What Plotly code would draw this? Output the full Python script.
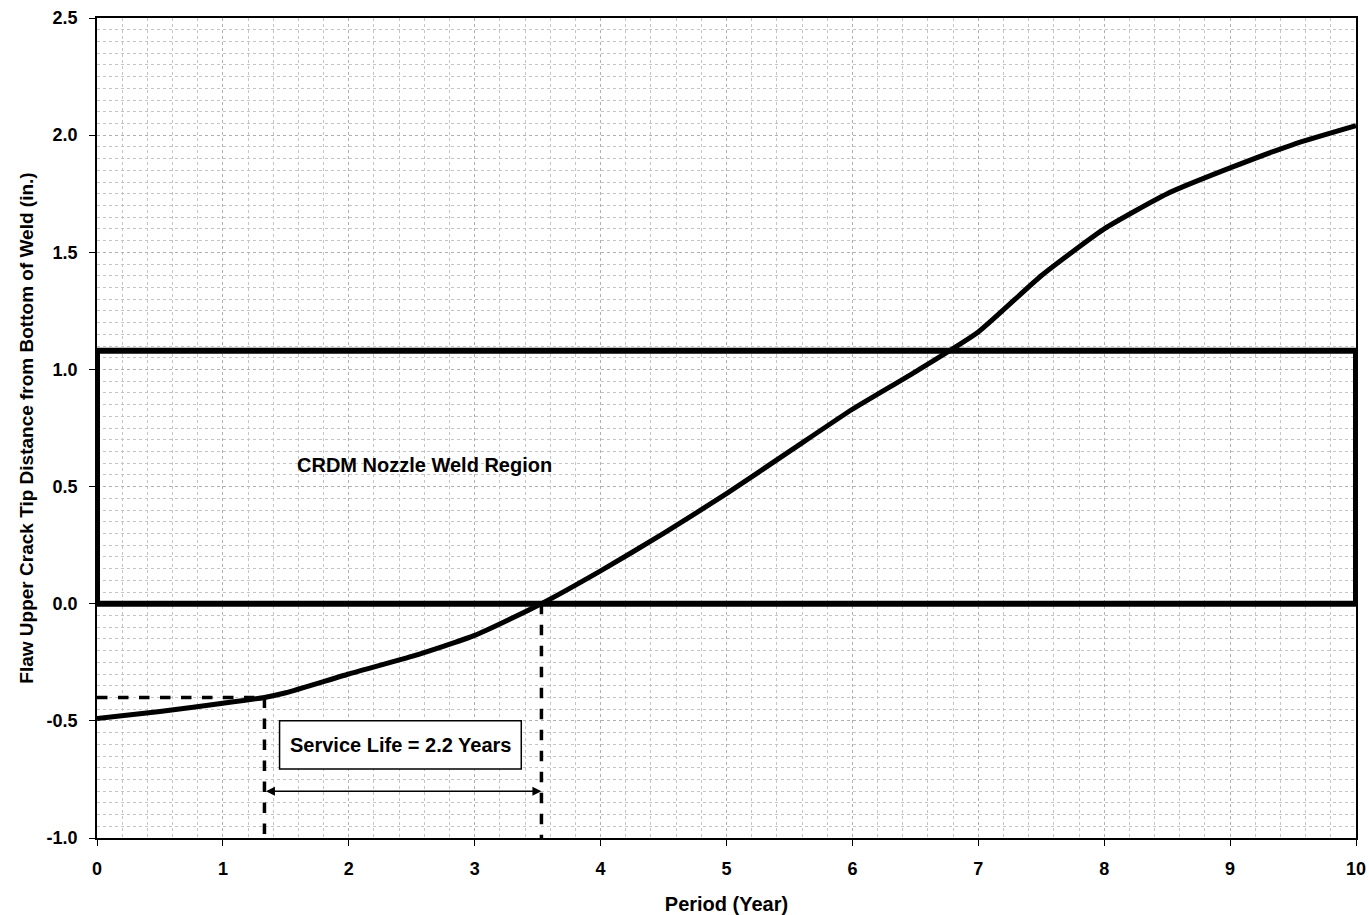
import plotly.graph_objects as go

# Data
period = [0, 0.5, 1.0, 1.33, 1.5, 2.0, 2.5, 3.0, 3.53, 4.0, 4.5, 5.0, 5.5, 6.0, 6.5, 7.0, 7.5, 8.0, 8.5, 9.0, 9.5, 10.0]
tip = [-0.49, -0.46, -0.425, -0.40, -0.38, -0.30, -0.225, -0.135, 0.0, 0.14, 0.30, 0.47, 0.65, 0.83, 0.99, 1.16, 1.40, 1.60, 1.75, 1.86, 1.96, 2.04]

weld_region = [0.0, 10.0, 0.0, 1.08]   # x0, x1, y0, y1
start_year = 1.33
start_depth = -0.40
end_year = 3.53
arrow_y = -0.80
service_box = [1.45, 3.37, -0.705, -0.50]  # x0, x1, y0, y1
service_label = "Service Life = 2.2 Years"
region_label = "CRDM Nozzle Weld Region"
region_label_pos = [2.605, 0.59]

x_ticks = list(range(0, 11))
y_ticks = [-1.0, -0.5, 0.0, 0.5, 1.0, 1.5, 2.0, 2.5]

FONT = "Liberation Sans, Arial, sans-serif"

fig = go.Figure()
fig.add_trace(go.Scatter(x=period, y=tip, mode="lines", line=dict(color="black", width=5, shape="spline", smoothing=0.5),
                         showlegend=False, hoverinfo="skip"))

shapes = [
    dict(type="rect", xref="x", yref="y", x0=weld_region[0], x1=weld_region[1], y0=weld_region[2], y1=weld_region[3],
         line=dict(color="black", width=6), fillcolor="rgba(0,0,0,0)"),
    dict(type="line", xref="x", yref="y", x0=0, x1=start_year, y0=start_depth, y1=start_depth,
         line=dict(color="black", width=3.5, dash="dash")),
    dict(type="line", xref="x", yref="y", x0=start_year, x1=start_year, y0=start_depth, y1=-1.0,
         line=dict(color="black", width=3.5, dash="dash")),
    dict(type="line", xref="x", yref="y", x0=end_year, x1=end_year, y0=0, y1=-1.0,
         line=dict(color="black", width=3.5, dash="dash")),
    dict(type="rect", xref="x", yref="y", x0=service_box[0], x1=service_box[1], y0=service_box[2], y1=service_box[3],
         line=dict(color="black", width=1.5), fillcolor="white"),
]
fig.update_layout(shapes=shapes)

annotations = [
    dict(x=end_year, y=arrow_y, ax=start_year, ay=arrow_y, xref="x", yref="y", axref="x", ayref="y",
         text="", showarrow=True, arrowhead=2, arrowside="end+start", arrowwidth=1.5, arrowsize=1.2, arrowcolor="black"),
    dict(x=(service_box[0] + service_box[1]) / 2, y=(service_box[2] + service_box[3]) / 2, xref="x", yref="y",
         text="<b>" + service_label + "</b>", showarrow=False, font=dict(family=FONT, size=20, color="black")),
    dict(x=region_label_pos[0], y=region_label_pos[1], xref="x", yref="y", text="<b>" + region_label + "</b>",
         showarrow=False, font=dict(family=FONT, size=20, color="black")),
]
fig.update_layout(annotations=annotations)

fig.update_xaxes(range=[0, 10], tickvals=x_ticks, ticktext=["<b>%d</b>" % t for t in x_ticks],
                 showline=True, linecolor="black", linewidth=1.5, mirror=True,
                 ticks="outside", ticklen=6, tickcolor="black", ticklabelstandoff=8,
                 showgrid=True, gridcolor="#b0b0b0", griddash="dot", gridwidth=1,
                 minor=dict(dtick=0.2, showgrid=True, gridcolor="#c4c4c4", griddash="dot", gridwidth=1),
                 zeroline=False, automargin=False,
                 title=dict(text="<b>Period (Year)</b>", font=dict(family=FONT, size=20, color="black"), standoff=22),
                 tickfont=dict(family=FONT, size=18, color="black"))
fig.update_yaxes(range=[-1.0, 2.5], tickvals=y_ticks, ticktext=["<b>%.1f</b>" % v for v in y_ticks],
                 showline=True, linecolor="black", linewidth=1.5, mirror=True,
                 ticks="outside", ticklen=6, tickcolor="black", ticklabelstandoff=8,
                 showgrid=True, gridcolor="#b0b0b0", griddash="dot", gridwidth=1,
                 minor=dict(dtick=0.05, showgrid=True, gridcolor="#c4c4c4", griddash="dot", gridwidth=1),
                 zeroline=False, automargin=False,
                 title=dict(text="<b>Flaw Upper Crack Tip Distance from Bottom of Weld (in.)</b>",
                            font=dict(family=FONT, size=19, color="black"), standoff=8),
                 tickfont=dict(family=FONT, size=18, color="black"))

fig.update_layout(width=1369, height=915, plot_bgcolor="white", paper_bgcolor="white",
                  margin=dict(l=97, r=13, t=18, b=77), showlegend=False)

fig.write_html("out.html", config={"displayModeBar": False},
               post_script="document.body.style.margin='0';document.body.style.overflow='hidden';")
